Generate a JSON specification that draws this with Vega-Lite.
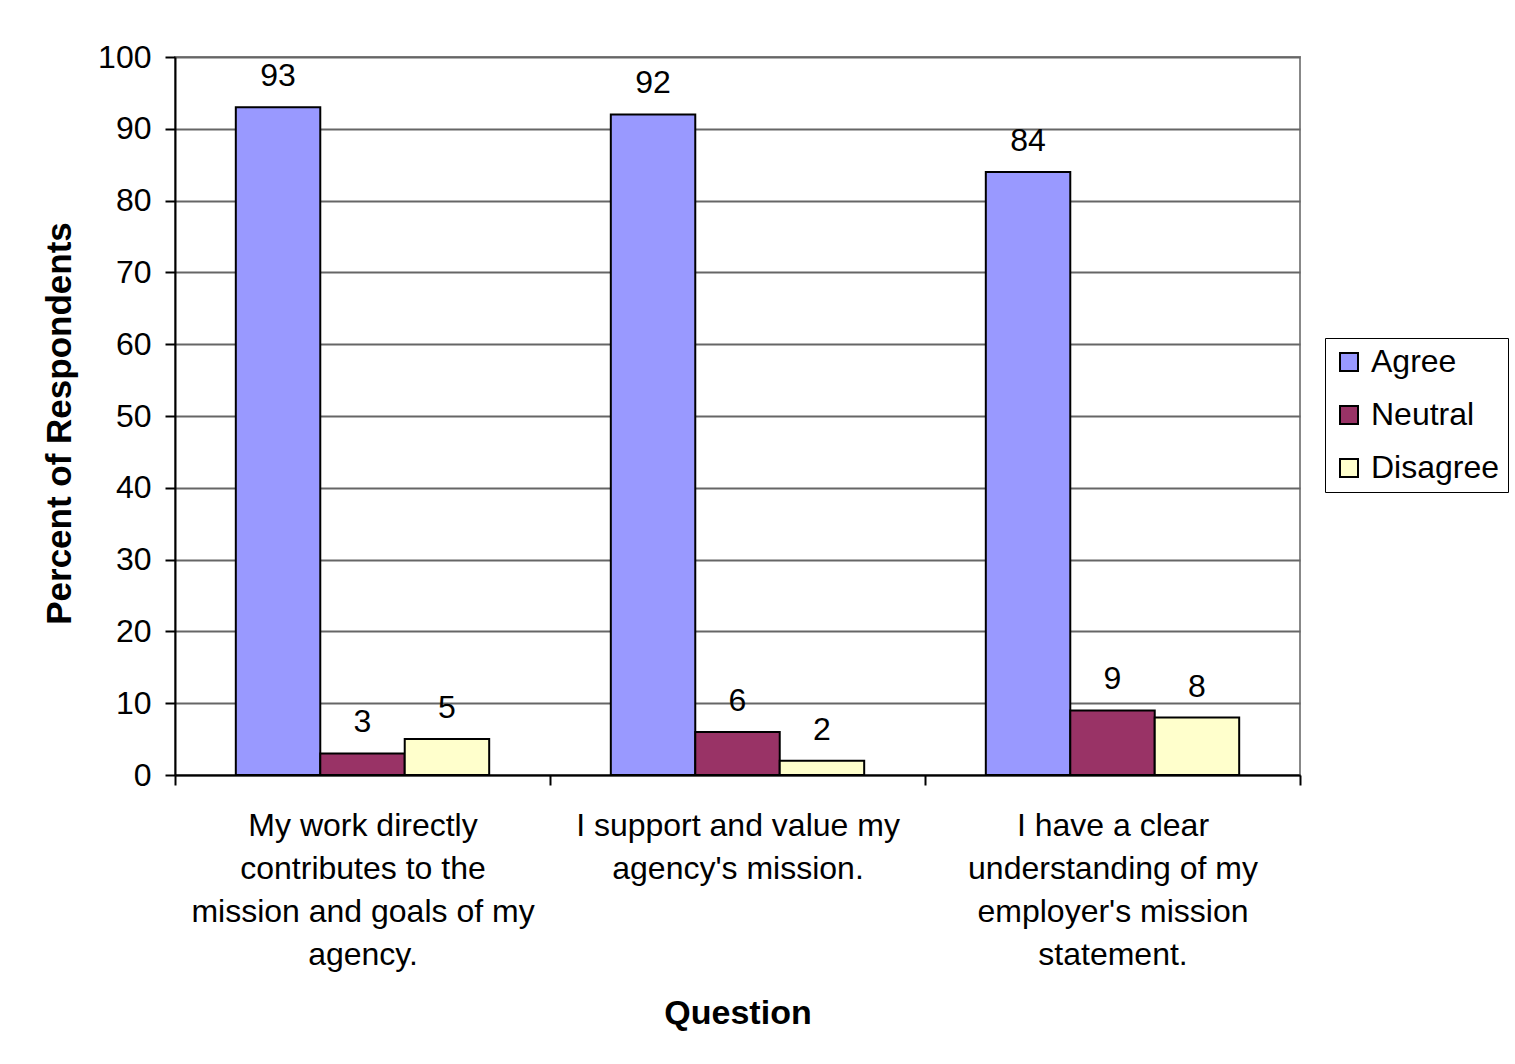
{
  "$schema": "https://vega.github.io/schema/vega-lite/v6.json",
  "autosize": {"type": "none"},
  "width": 1125,
  "height": 718,
  "padding": {"left": 175, "top": 57, "right": 215, "bottom": 289},
  "background": "white",
  "config": {
    "font": "Liberation Sans",
    "view": {"stroke": "#888888", "strokeWidth": 2}
  },
  "data": {
    "values": [
      {"question": "My work directly|contributes to the|mission and goals of my|agency.", "response": "Agree", "percent": 93},
      {"question": "My work directly|contributes to the|mission and goals of my|agency.", "response": "Neutral", "percent": 3},
      {"question": "My work directly|contributes to the|mission and goals of my|agency.", "response": "Disagree", "percent": 5},
      {"question": "I support and value my|agency's mission.", "response": "Agree", "percent": 92},
      {"question": "I support and value my|agency's mission.", "response": "Neutral", "percent": 6},
      {"question": "I support and value my|agency's mission.", "response": "Disagree", "percent": 2},
      {"question": "I have a clear|understanding of my|employer's mission|statement.", "response": "Agree", "percent": 84},
      {"question": "I have a clear|understanding of my|employer's mission|statement.", "response": "Neutral", "percent": 9},
      {"question": "I have a clear|understanding of my|employer's mission|statement.", "response": "Disagree", "percent": 8}
    ]
  },
  "encoding": {
    "x": {
      "field": "question",
      "type": "nominal",
      "sort": null,
      "scale": {"paddingInner": 0, "paddingOuter": 0},
      "axis": {
        "title": "Question",
        "titleFontSize": 34,
        "titleFontWeight": "bold",
        "titleColor": "black",
        "titlePadding": 26,
        "labelAngle": 0,
        "labelExpr": "split(datum.label, '|')",
        "labelFontSize": 32,
        "labelLineHeight": 43,
        "labelPadding": 25,
        "labelBaseline": "top",
        "labelColor": "black",
        "labelLimit": 500,
        "tickBand": "extent",
        "tickSize": 10,
        "tickColor": "black",
        "tickWidth": 2,
        "domainColor": "black",
        "domainWidth": 2,
        "grid": false
      }
    },
    "xOffset": {
      "field": "response",
      "type": "nominal",
      "sort": ["Agree", "Neutral", "Disagree"],
      "scale": {"paddingInner": 0, "paddingOuter": 0.72}
    },
    "y": {
      "field": "percent",
      "type": "quantitative",
      "scale": {"domain": [0, 100], "nice": false},
      "axis": {
        "title": "Percent of Respondents",
        "titleFontSize": 35,
        "titleFontWeight": "bold",
        "titleColor": "black",
        "titlePadding": 20,
        "titleY": 366,
        "values": [0, 10, 20, 30, 40, 50, 60, 70, 80, 90, 100],
        "labelFontSize": 32,
        "labelColor": "black",
        "labelPadding": 14,
        "tickSize": 10,
        "tickColor": "black",
        "tickWidth": 2,
        "domainColor": "black",
        "domainWidth": 2,
        "grid": true,
        "gridColor": "#666666",
        "gridWidth": 2
      }
    }
  },
  "layer": [
    {
      "mark": {"type": "bar", "stroke": "black", "strokeWidth": 2},
      "encoding": {
        "color": {
          "field": "response",
          "type": "nominal",
          "sort": ["Agree", "Neutral", "Disagree"],
          "scale": {"domain": ["Agree", "Neutral", "Disagree"], "range": ["#9999FF", "#993366", "#FFFFCC"]},
          "legend": {
            "title": null,
            "orient": "none",
            "legendX": 1150,
            "legendY": 281,
            "strokeColor": "black",
            "fillColor": "white",
            "padding": 8,
            "rowPadding": 21,
            "labelFontSize": 32,
            "labelColor": "black",
            "labelOffset": 6,
            "symbolType": "square",
            "symbolSize": 324,
            "symbolStrokeColor": "black",
            "symbolStrokeWidth": 2
          }
        }
      }
    },
    {
      "mark": {"type": "text", "dy": -21, "baseline": "alphabetic", "fontSize": 32, "color": "black"},
      "encoding": {
        "text": {"field": "percent", "type": "quantitative"}
      }
    }
  ]
}
